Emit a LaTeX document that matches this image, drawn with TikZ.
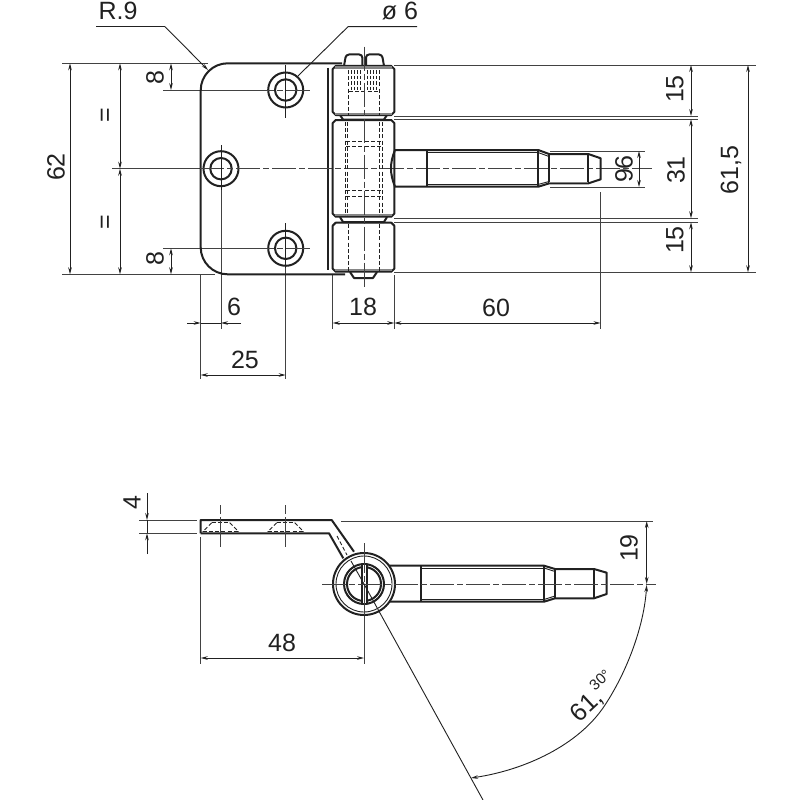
\documentclass[tikz,border=0pt]{standalone}
\usepackage{fontspec}
\setmainfont{Liberation Sans}
\usetikzlibrary{arrows.meta}
\definecolor{ink}{gray}{0.13}
\tikzset{
  outline/.style={draw=ink,line width=2pt,line join=round},
  thinout/.style={draw=ink,line width=0.9pt},
  extline/.style={draw=ink!85,line width=0.9pt},
  dimline/.style={draw=ink,line width=0.9pt,{Stealth[length=7pt,width=3.6pt]}-{Stealth[length=7pt,width=3.6pt]}},
  dimone/.style={draw=ink,line width=0.9pt,-{Stealth[length=7pt,width=3.6pt]}},
  axisline/.style={draw=ink!85,line width=0.9pt,dash pattern=on 24pt off 3pt on 6pt off 3pt},
  hidden/.style={draw=ink,line width=0.9pt,dash pattern=on 4pt off 2.2pt},
  lbl/.style={font=\fontsize{25}{25}\selectfont,text=ink,inner sep=0pt},
  lblsmall/.style={font=\fontsize{15}{15}\selectfont,text=ink,inner sep=0pt}
}
\newcommand{\knuck}[2]{%
  \draw[outline] (332.7,#1+3) -- (335.7,#1) -- (391.3,#1) -- (394.3,#1+3) -- (394.3,#2-3) -- (391.3,#2) -- (335.7,#2) -- (332.7,#2-3) -- cycle;
}
\begin{document}
\begin{tikzpicture}[x=1pt,y=-1pt]
\useasboundingbox (0,0) rectangle (800,800);
\fill[white] (0,0) rectangle (800,800);
% ---------- upper view: extension lines
\draw[extline] (62,63.3) -- (208,63.3);
\draw[extline] (62,274.3) -- (215,274.3);
\draw[extline] (163,90) -- (250,90);
\draw[extline] (163,248.3) -- (250,248.3);
\draw[extline] (112,168.7) -- (200,168.7);
\draw[extline] (394,65) -- (756,65);
\draw[extline] (394,116) -- (698,116);
\draw[extline] (394,119.3) -- (698,119.3);
\draw[extline] (394,218.3) -- (698,218.3);
\draw[extline] (394,222.3) -- (698,222.3);
\draw[extline] (394,272.3) -- (756,272.3);
\draw[extline] (550,151) -- (645,151);
\draw[extline] (550,187) -- (645,187);
\draw[extline] (200.7,274) -- (200.7,379);
\draw[extline] (221,190) -- (221,329);
\draw[extline] (285.7,268) -- (285.7,379);
\draw[extline] (332.7,275) -- (332.7,329);
\draw[extline] (394.3,275) -- (394.3,329);
\draw[extline] (600.5,192) -- (600.5,329);
% ---------- upper view: plate
\draw[outline,rounded corners=27pt] (342,63.3) -- (200.7,63.3) -- (200.7,274.3) -- (345,274.3);
\draw[outline] (328,68) -- (328,270);
\foreach \cx/\cy in {285.7/90,221/168.7,285.7/248.3}{
  \draw[outline,fill=white] (\cx,\cy) circle[radius=17.5];
  \draw[outline] (\cx,\cy) circle[radius=10.7];
}
% ---------- upper view: centre lines
\draw[axisline] (200,168.7) -- (652,168.7);
\draw[axisline] (250,90) -- (311,90);
\draw[axisline] (250,248.3) -- (311,248.3);
\draw[thinout] (285.7,65) -- (285.7,118);
\draw[thinout] (285.7,223) -- (285.7,268);
\draw[thinout] (221,145) -- (221,190);
% ---------- upper view: pin head and tail
\draw[outline,rounded corners=3pt] (344,66) -- (346,54.5) -- (362.3,54.5) -- (362.3,66);
\draw[outline,rounded corners=3pt] (366,66) -- (366,54.5) -- (382,54.5) -- (384,66);
\draw[outline] (350,272) -- (354,278) -- (373,278) -- (377,272);
% ---------- upper view: collars between knuckles
\draw[outline] (340,115) -- (343,119.5) -- (384,119.5) -- (387,115);
\draw[outline] (340,217) -- (343,222) -- (384,222) -- (387,217);
% ---------- upper view: knuckles
\knuck{66}{115}
\knuck{120}{216.7}
\knuck{222.7}{271.7}
\fill[ink!55] (335,66.5) rectangle (392,69);
\fill[ink!55] (335,112.5) rectangle (392,114.5);
\fill[ink!55] (335,214) rectangle (392,216.2);
\fill[ink!55] (335,269) rectangle (392,271.2);
% ---------- upper view: hidden lines
\draw[hidden] (348.3,70) -- (348.3,115);
\draw[hidden] (379.3,70) -- (379.3,115);
\draw[hidden] (345,122) -- (345,215);
\draw[hidden] (347.7,122) -- (347.7,215);
\draw[hidden] (379.3,122) -- (379.3,215);
\draw[hidden] (382.3,122) -- (382.3,215);
\draw[hidden] (348.3,224) -- (348.3,271);
\draw[hidden] (379.3,224) -- (379.3,271);
\draw[hidden] (346,141.7) -- (381,141.7);
\draw[hidden] (346,146.7) -- (381,146.7);
\draw[hidden] (346,190.7) -- (381,190.7);
\draw[hidden] (346,196) -- (381,196);
\draw[hidden] (349,91) -- (379,91);
\foreach \tx in {351,354,357,360,367,370,373,376}{
  \draw[hidden,dash pattern=on 3.5pt off 2pt] (\tx,70) -- (\tx,90);
}
\draw[axisline] (364,46.7) -- (364,289);
% ---------- upper view: pin
\draw[outline] (395,150) -- (538.3,150) -- (549,154) -- (588.3,154) -- (600.7,158.3) -- (600.7,179.3) -- (588.3,183.4) -- (549,183.4) -- (538.3,186.7) -- (395,186.7);
\draw[outline] (395,150) to[bend right=22] (395,186.7);
\draw[outline] (426.7,150) -- (426.7,186.7);
\draw[outline] (538.3,150) -- (538.3,186.7);
\draw[outline] (549,154) -- (549,183.4);
\draw[outline] (588.3,154) -- (588.3,183.4);
\draw[thinout] (427,152.5) -- (538,152.5);
\draw[thinout] (427,184.5) -- (538,184.5);
\fill[ink!55] (549,181.5) rectangle (588,183.4);
\draw[thinout] (538,152.5) -- (549,156.5);
\draw[thinout] (538,184.5) -- (549,181.5);
% ---------- upper view: dimensions
\draw[dimline] (70,63.3) -- (70,274.3);
\draw[dimline] (120,63.3) -- (120,168.7);
\draw[dimline] (120,168.7) -- (120,274.3);
\draw[dimline] (171,63.3) -- (171,90);
\draw[dimline] (171,248.3) -- (171,274.3);
\draw[dimline] (639,151) -- (639,187);
\draw[dimline] (691,65) -- (691,116);
\draw[dimline] (691,119.3) -- (691,218.3);
\draw[dimline] (691,222.3) -- (691,272.3);
\draw[dimline] (748,65) -- (748,272.3);
\draw[dimone] (187,323) -- (200.7,323);
\draw[dimone] (241,323) -- (221,323);
\draw[thinout] (200.7,323) -- (221,323);
\draw[dimline] (200.7,375) -- (285.7,375);
\draw[dimline] (332.7,323) -- (394.3,323);
\draw[dimline] (394.3,323) -- (600.5,323);
% ---------- upper view: leaders
\draw[thinout] (96,26.7) -- (165,26.7);
\draw[dimone] (165,26.7) -- (208,70);
\draw[thinout] (417,26.7) -- (348,26.7) -- (298,76);
% ---------- upper view: labels
\node[lbl] (tr) at (118,10.5) {R.9};
\node[lbl] (td) at (400,11) {ø 6};
\node[lbl,rotate=90] (t8a) at (155,78) {8};
\node[lbl,rotate=90] (t8b) at (155,259) {8};
\node[lbl,rotate=90] (t62) at (56,167) {62};
\node[lbl,rotate=90] (teqa) at (107,115) {=};
\node[lbl,rotate=90] (teqb) at (107,222) {=};
\node[lbl] (t6) at (234,307) {6};
\node[lbl] (t25) at (245,360) {25};
\node[lbl] (t18) at (363,307) {18};
\node[lbl] (t60) at (496,308) {60};
\node[lbl,rotate=90] (t15a) at (675,89) {15};
\node[lbl,rotate=90] (t31) at (676,170) {31};
\node[lbl,rotate=90] (t15b) at (675,240) {15};
\node[lbl,rotate=90] (t615) at (731,170) {61,5};
\node[lbl,rotate=90] (t96) at (624,169) {96};
% ---------- lower view: extension lines
\draw[extline] (139,520) -- (197,520);
\draw[extline] (139,533.3) -- (197,533.3);
\draw[extline] (341,521) -- (653,521);
\draw[extline] (200.7,537) -- (200.7,664);
\draw[extline] (364,615) -- (364,664);
% ---------- lower view: leaf
\draw[outline] (200.7,533.3) -- (200.7,520) -- (331.7,520) -- (354,551.7);
\draw[outline] (200.7,533.3) -- (329,533.3) -- (343.3,558.3);
\draw[hidden] (337,536) -- (347,555);
\foreach \hx in {220.7,285.7}{
  \draw[hidden] (\hx-9,522.7) -- (\hx+9,522.7);
  \draw[hidden] (\hx-18,531.7) -- (\hx+18,531.7);
  \draw[hidden] (\hx-9,522.7) -- (\hx-18,531.7);
  \draw[hidden] (\hx+9,522.7) -- (\hx+18,531.7);
  \draw[axisline,dash pattern=on 9pt off 3pt on 30pt off 3pt] (\hx,505) -- (\hx,548);
}
% ---------- lower view: pin
\draw[outline] (388,565.7) -- (544,565.7) -- (555,569) -- (594,569) -- (606.7,572.7) -- (606.7,594) -- (594,598.3) -- (555,598.3) -- (544,601.7) -- (388,601.7);
\draw[outline] (420.7,565.7) -- (420.7,601.7);
\draw[outline] (544,565.7) -- (544,601.7);
\draw[outline] (555,569) -- (555,598.3);
\draw[outline] (594,569) -- (594,598.3);
\draw[thinout] (421,568) -- (544,568);
\draw[thinout] (421,599.5) -- (544,599.5);
\draw[thinout] (544,568) -- (555,571.5);
\draw[thinout] (544,599.5) -- (555,596);
% ---------- lower view: knuckle
\draw[outline,fill=white] (364,584) circle[radius=31];
\draw[thinout] (364,584) circle[radius=28];
\draw[outline] (364,584) circle[radius=20];
\draw[outline] (364,584) circle[radius=17];
\draw[outline,fill=white] (361.7,564) rectangle (366.7,604);
% ---------- lower view: centre lines
\draw[axisline] (322,584) -- (656,584);
\draw[axisline,dash pattern=on 30pt off 3pt on 6pt off 3pt] (364,543) -- (364,618);
\draw[thinout] (351,561) -- (364,584);
\draw[thinout] (364,584) -- (483,800);
% ---------- lower view: dimensions
\coordinate (dfour) at (147,493);
\coordinate (dfourb) at (147,554);
\draw[dimone] (dfour) -- (147,520);
\draw[dimone] (dfourb) -- (147,533.3);
\draw[thinout] (147,520) -- (147,533.3);
\draw[dimline] (200.7,658) -- (364,658);
\draw[dimline] (646.7,521) -- (646.7,584);
\draw[dimline] (646.7,585) .. controls (644,625) and (628,670) .. (605,705) .. controls (579,745) and (525,770) .. (471,778);
% ---------- lower view: labels
\node[lbl,rotate=90] (t4) at (132,503) {4};
\node[lbl] (t48) at (282,643) {48};
\node[lbl,rotate=90] (t19) at (629,548) {19};
\node[lbl,rotate=43] (t61) at (587,706) {61,};
\node[lblsmall,rotate=43] (t30) at (600,680) {30°};
\end{tikzpicture}
\end{document}
